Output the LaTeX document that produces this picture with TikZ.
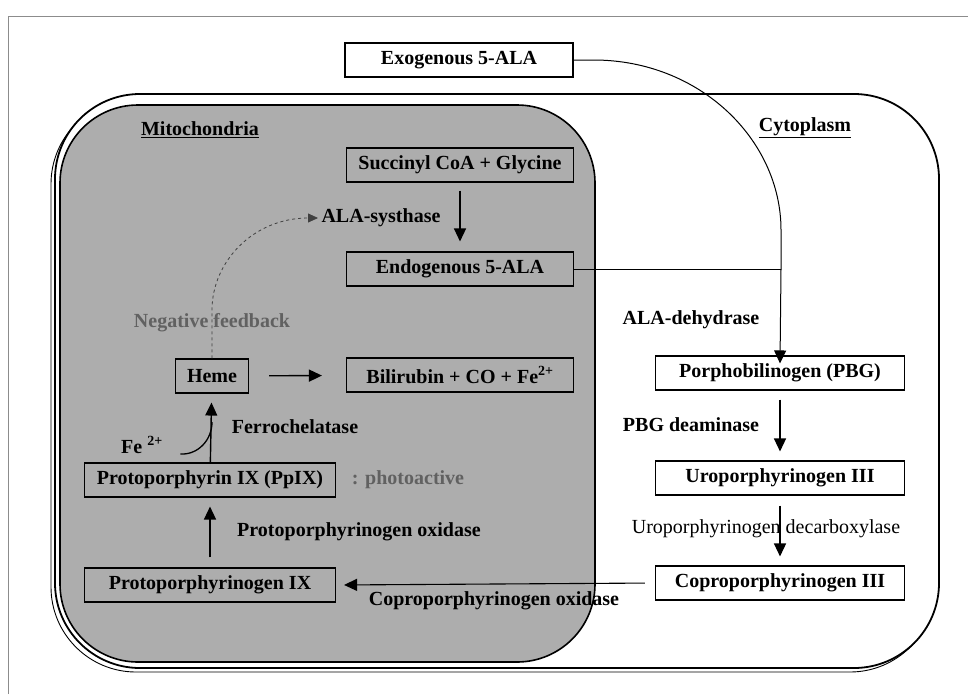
\documentclass[tikz,border=0pt]{standalone}
\usepackage{fontspec}
\setmainfont{Liberation Serif}
\usetikzlibrary{arrows.meta,positioning}

\begin{document}
\begin{tikzpicture}[x=1pt,y=-1pt,>={Triangle[length=13pt,width=12pt]},
    every node/.style={font=\fontsize{20}{23}\selectfont\bfseries},
    box/.style={draw,line width=1.1pt,inner sep=0pt,minimum height=34pt},
    wbox/.style={box,fill=white},
    flow/.style={->,line width=1.4pt},
    note/.style={text=black!62}]
		\useasboundingbox (0,0) rectangle (968,694);
		\draw[black!45,line width=0.6pt] (8,694) -- (8,16) -- (968,16);

		% cell and mitochondria
		\draw[line width=0.9pt,rounded corners=85pt] (51,99) rectangle (935,672);
		\draw[line width=1.8pt,fill=white,rounded corners=85pt] (55,94) rectangle (939,668);
		\draw[line width=1.6pt,fill=black!32,rounded corners=78pt] (60,105) rectangle (595,662);
		\node (mito) at (200,130) {\underline{Mitochondria}};
		\node (cyto) at (805,128) {\underline{Cytoplasm}};

		\node[wbox,minimum width=228pt] (exo) at (459,60) {Exogenous 5-ALA};
		\node[box,minimum width=227pt] (succ) at (460,165) {Succinyl CoA + Glycine};
		\node[box,minimum width=227pt] (endo) at (460,269) {Endogenous 5-ALA};
		\node[anchor=west] (synth) at (318,218) {ALA-systhase};
		\node[note] (feedback) at (212,323) {Negative feedback};
		\node[box,minimum width=73pt] (heme) at (212,376) {Heme};
		\node[box,minimum width=227pt] (bili) at (460,375) {Bilirubin + CO + Fe\textsuperscript{2+}};
		\node (ferro) at (295,427) {Ferrochelatase};
		\node (fe) at (142,445) {Fe \textsuperscript{2+}};
		\node[box,minimum width=251pt] (ppix) at (210,480) {Protoporphyrin IX (PpIX)};
		\node[note] (photo) at (408,480) {: photoactive};
		\node (protoox) at (359,532) {Protoporphyrinogen oxidase};
		\node[box,minimum width=251pt] (protogen) at (210,585) {Protoporphyrinogen IX};
		\node (coproox) at (494,601) {Coproporphyrinogen oxidase};

		\node (dehyd) at (691,320) {ALA-dehydrase};
		\node[wbox,minimum width=249pt] (pbg) at (780,373) {Porphobilinogen (PBG)};
		\node (deam) at (691,425) {PBG deaminase};
		\node[wbox,minimum width=249pt] (uro) at (780,478) {Uroporphyrinogen III};
		\node[font=\fontsize{20}{23}\selectfont] (decarb) at (766,529) {Uroporphyrinogen decarboxylase};
		\node[wbox,minimum width=249pt] (coprogen) at (780,583) {Coproporphyrinogen III};

		\coordinate (join) at (781,269);
		\coordinate (fejoin) at (212,422);

		% 5-ALA into the cytoplasm
		\draw[line width=1pt] (exo.east) -- ++(20,0) .. controls (700,60) and (781,140) .. (781,230) -- (join);
		\draw[line width=1pt] (endo.east) -- (join);
		\draw[->,line width=1pt] (join) -- ([yshift=-8pt]pbg.north);

		\path[flow]
		(succ) edge [shorten <=8pt, shorten >=10pt] (endo)
		(pbg) edge [shorten <=9pt, shorten >=9pt] (uro)
		(uro) edge [shorten <=10pt, shorten >=9pt] (coprogen)
		(protogen) edge [shorten <=10pt, shorten >=9pt] (ppix)
		(ppix) edge [shorten >=9pt] (heme)
		(heme) edge [shorten <=20pt, shorten >=24pt] (bili)
		;
		\draw[->,line width=1.1pt,shorten <=10pt,shorten >=8pt] (coprogen.west) -- (protogen.east);
		\draw[line width=1.3pt] ([xshift=14pt,yshift=3pt]fe.south east) .. controls (198,455) and (212,440) .. (fejoin);

		% feedback on ALA-synthase
		\draw[->,dashed,line width=0.8pt,black!75,>={Triangle[length=10pt,width=9pt]}]
		(heme.north) -- (212,310) .. controls (212,262) and (253,218) .. (synth.west);
	\end{tikzpicture}
\end{document}
